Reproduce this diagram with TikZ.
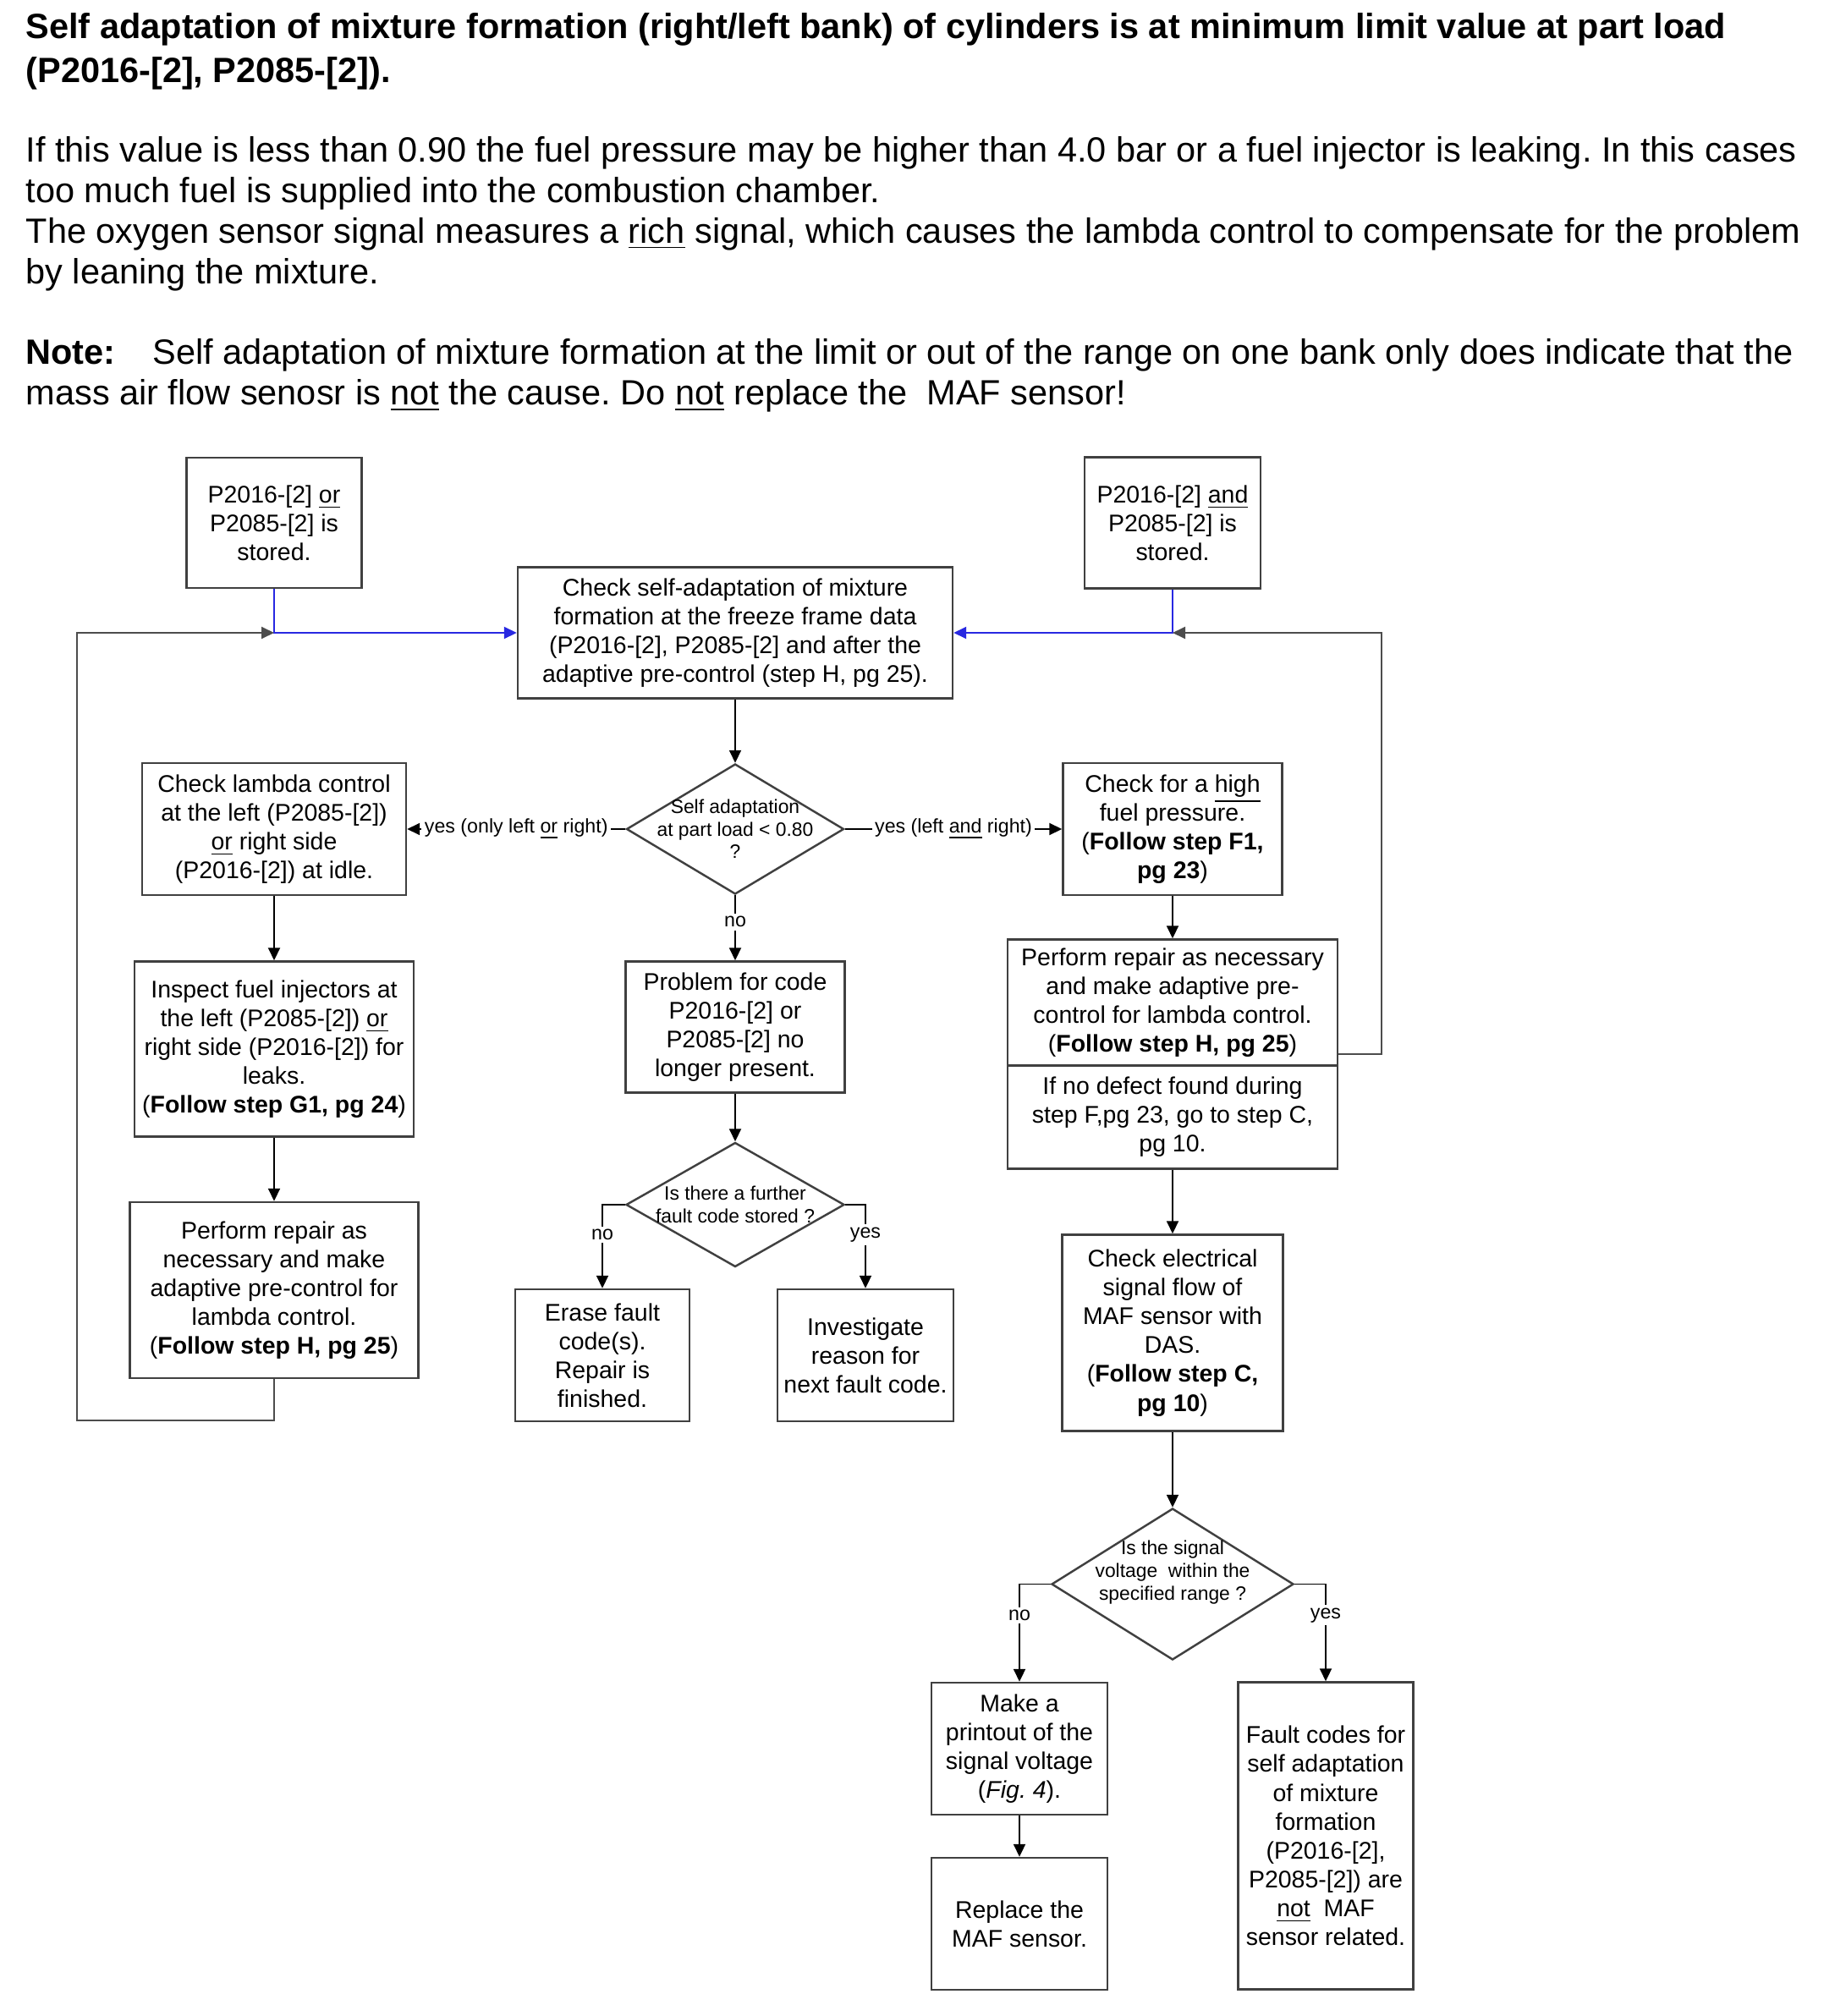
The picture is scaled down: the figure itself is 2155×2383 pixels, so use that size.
\documentclass[tikz,border=0pt]{standalone}
\usepackage{fontspec}
\setmainfont{Liberation Sans}
\usetikzlibrary{shapes.geometric, positioning, arrows.meta}
\definecolor{entryblue}{RGB}{40,40,225}
\frenchspacing

\begin{document}
\begin{tikzpicture}[>={Triangle[length=1.5mm, width=1.4mm]}, x=0.1mm, y=-0.1mm,
    box/.style={draw=black!75, line width=0.7pt, fill=white, align=center, inner sep=1pt,
        font=\fontsize{8.1}{9.7}\selectfont},
    decision/.style={diamond, draw=black!75, line width=0.7pt, inner sep=0pt},
    dtext/.style={align=center, inner sep=0pt, font=\fontsize{6.5}{7.6}\selectfont},
    lbl/.style={fill=white, inner sep=1pt, font=\fontsize{6.6}{7.6}\selectfont},
    flow/.style={->, black, line width=0.55pt},
    fback/.style={->, black!70, line width=0.55pt},
    entry/.style={->, entryblue, line width=0.55pt}]
    \useasboundingbox (0,0) rectangle (2155,2383);

    % Text above the chart
    \node[anchor=north west, align=left, inner sep=0pt, font=\bfseries\fontsize{11.8}{14.6}\selectfont] (title) at (30,15)
        {Self adaptation of mixture formation (right/left bank) of cylinders is at minimum limit value at part load\\
         (P2016-[2], P2085-[2]).};
    \node[anchor=north west, align=left, inner sep=0pt, font=\fontsize{11.8}{13.6}\selectfont] (intro) at (30,161)
        {If this value is less than 0.90 the fuel pressure may be higher than 4.0 bar or a fuel injector is leaking. In this cases\\
         too much fuel is supplied into the combustion chamber.\\
         The oxygen sensor signal measures a \underline{rich} signal, which causes the lambda control to compensate for the problem\\
         by leaning the mixture.};
    \node[anchor=north west, align=left, inner sep=0pt, font=\fontsize{11.8}{13.6}\selectfont] (note) at (30,400)
        {\textbf{Note:}\hspace{4.4mm}Self adaptation of mixture formation at the limit or out of the range on one bank only does indicate that the\\
         mass air flow senosr is \underline{not} the cause. Do \underline{not} replace the\ \ MAF sensor!};

    % Entry points and first check
    \node[box, minimum width=20.7mm, minimum height=15.4mm] (orstored) at (324,618) {P2016-[2] \underline{or}\\P2085-[2] is\\stored.};
    \node[box, minimum width=20.8mm, minimum height=15.5mm] (andstored) at (1386,618) {P2016-[2] \underline{and}\\P2085-[2] is\\stored.};
    \node[box, minimum width=51.4mm, minimum height=15.5mm] (check) at (869,748)
        {Check self-adaptation of mixture\\formation at the freeze frame data\\(P2016-[2], P2085-[2] and after the\\adaptive pre-control (step H, pg 25).};
    \coordinate (joinL) at (orstored |- check);
    \coordinate (joinR) at (andstored |- check);
    \coordinate (loopL) at (91,1679);

    \node[decision, minimum width=25.7mm, minimum height=15.4mm,
        label={[dtext]center:{Self adaptation\\at part load < 0.80\\?}}] (partload) [below of=check, node distance=23.2mm] {};

    % Branch for one bank only
    \node[box, minimum width=31.2mm, minimum height=15.6mm] (lambda) [left of=partload, node distance=54.5mm]
        {Check lambda control\\at the left (P2085-[2])\\\underline{or} right side\\(P2016-[2]) at idle.};
    \node[box, minimum width=33mm, minimum height=20.7mm] (injectors) [below of=lambda, node distance=26mm]
        {Inspect fuel injectors at\\the left (P2085-[2]) \underline{or}\\right side (P2016-[2]) for\\leaks.\\(\textbf{Follow step G1, pg 24})};
    \node[box, minimum width=34.1mm, minimum height=20.8mm] (repairL) [below of=injectors, node distance=28.5mm]
        {Perform repair as\\necessary and make\\adaptive pre-control for\\lambda control.\\(\textbf{Follow step H, pg 25})};

    % Branch for no fault at part load
    \node[box, minimum width=25.9mm, minimum height=15.5mm] (nolonger) [below of=partload, node distance=23.4mm]
        {Problem for code\\P2016-[2] or\\P2085-[2] no\\longer present.};
    \node[decision, minimum width=25.8mm, minimum height=14.7mm,
        label={[dtext]center:{Is there a further\\fault code stored ?}}] (further) [below of=nolonger, node distance=21mm] {};
    \node[box, minimum width=20.6mm, minimum height=15.6mm] (erase) at (712,1602)
        {Erase fault\\code(s).\\Repair is\\finished.};
    \node[box, minimum width=20.8mm, minimum height=15.6mm] (investigate) at (1023,1602)
        {Investigate\\reason for\\next fault code.};

    % Branch for both banks
    \node[box, minimum width=25.9mm, minimum height=15.6mm] (highfuel) [right of=partload, node distance=51.7mm]
        {Check for a \underline{high}\\fuel pressure.\\(\textbf{Follow step F1,}\\\textbf{pg 23})};
    \node[box, minimum width=39mm, minimum height=14.9mm] (repairR) [below of=highfuel, node distance=20.5mm]
        {Perform repair as necessary\\and make adaptive pre-\\control for lambda control.\\(\textbf{Follow step H, pg 25})};
    \node[box, minimum width=39mm, minimum height=12.2mm] (nodefect) [below of=repairR, node distance=13.55mm]
        {If no defect found during\\step F,pg 23, go to step C,\\pg 10.};
    \node[box, minimum width=26.1mm, minimum height=23.2mm] (electrical) [below of=nodefect, node distance=25.5mm]
        {Check electrical\\signal flow of\\MAF sensor with\\DAS.\\(\textbf{Follow step C,}\\\textbf{pg 10})};
    \node[decision, minimum width=28.6mm, minimum height=17.9mm,
        label={[dtext, yshift=1.4mm]center:{Is the signal\\voltage\ \ within the\\specified range ?}}] (voltage) [below of=electrical, node distance=29.7mm] {};
    \node[box, minimum width=20.8mm, minimum height=15.6mm] (printout) at (1205,2067)
        {Make a\\printout of the\\signal voltage\\(\textit{Fig. 4}).};
    \node[box, minimum width=20.8mm, minimum height=15.6mm] (replace) [below of=printout, node distance=20.7mm]
        {Replace the\\MAF sensor.};
    \node[box, minimum width=20.7mm, minimum height=36.3mm] (notmaf) at (1567,2170)
        {Fault codes for\\self adaptation\\of mixture\\formation\\(P2016-[2],\\P2085-[2]) are\\\underline{not}\ \ MAF\\sensor related.};

    % Entries into the first check
    \draw[entry] (orstored) |- (check);
    \draw[entry] (andstored) |- (check);

    % Loops back after the repair
    \draw[fback] (repairL) |- (loopL) |- (joinL);
    \draw[fback] ([yshift=1.5mm]repairR.south east) -- ++(5.1mm,0) |- (joinR);

    % Main path
    \draw[flow] (check) -- (partload);
    \draw[flow] (partload) -- node[lbl] {yes (only left \underline{or} right)} (lambda);
    \draw[flow] (partload) -- node[lbl] {yes (left \underline{and} right)} (highfuel);
    \draw[flow] (partload) -- node[lbl, pos=0.41] {no} (nolonger);

    \draw[flow] (lambda) -- (injectors);
    \draw[flow] (injectors) -- (repairL);

    \draw[flow] (nolonger) -- (further);
    \draw[flow] (further) -| node[lbl, pos=0.68] {no} (erase);
    \draw[flow] (further) -| node[lbl, pos=0.68] {yes} (investigate);

    \draw[flow] (highfuel) -- (repairR);
    \draw[flow] (nodefect) -- (electrical);
    \draw[flow] (electrical) -- (voltage);
    \draw[flow] (voltage) -| node[lbl, pos=0.66] {no} (printout);
    \draw[flow] (voltage) -| node[lbl, pos=0.66] {yes} (notmaf);
    \draw[flow] (printout) -- (replace);
\end{tikzpicture}
\end{document}
